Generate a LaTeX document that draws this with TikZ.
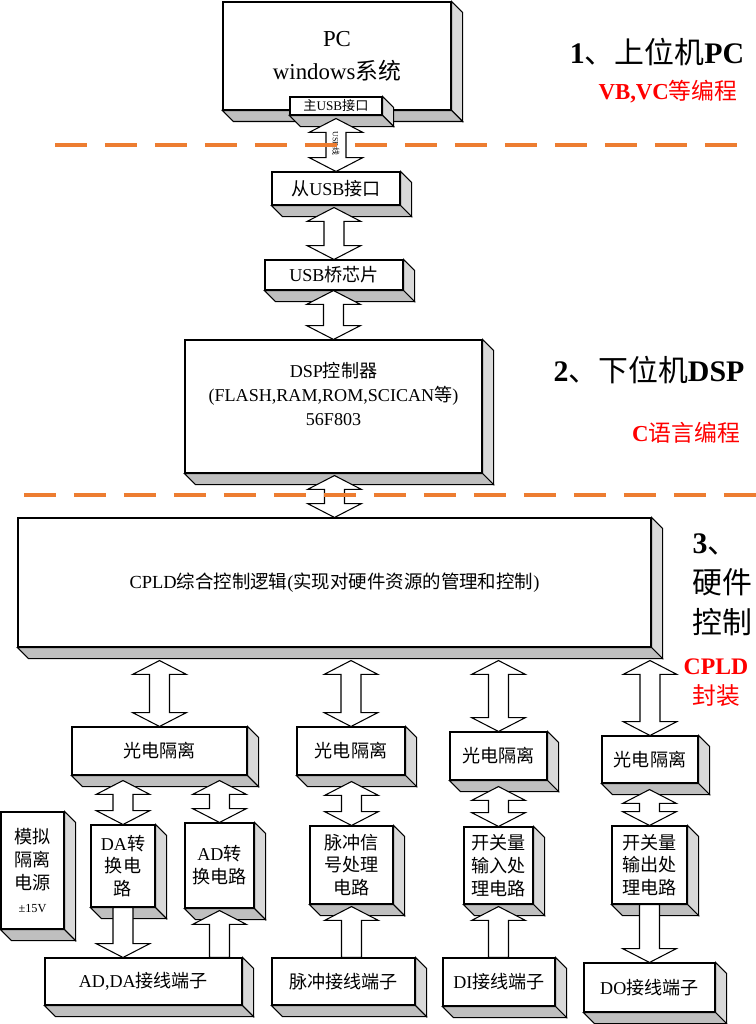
\documentclass[tikz,border=0pt]{standalone}
\usepackage{fontspec}
\usepackage{tikz}
\usepackage{xcolor}
\setmainfont{Liberation Serif}
\newfontfamily\cjk{Noto Sans CJK SC}
\usetikzlibrary{calc}
\definecolor{sepline}{RGB}{237,125,49}
\newcommand\zh[1]{{\cjk #1}}
\newcommand\ahw{15.3pt}
\newcommand\asw{5.7pt}
\newcommand\ahl{7.9pt}
\newcommand\extr[1]{%
  \filldraw[fill=gray!30] (#1.north east) -- ++(11,11) -- ([shift={(11,11)}]#1.south east) -- (#1.south east) -- cycle;
  \filldraw[fill=gray!50] (#1.south west) -- (#1.south east) -- ([shift={(11,11)}]#1.south east) -- ([shift={(11,11)}]#1.south west) -- cycle;}
\newcommand\dbar[3][0]{%
  \draw[bar] let \p1=($(#2.south)+(0,#1)$), \p2=(#3.north) in
    (\x2,\y1) -- (\x2+\ahw,\y1-\ahl) -- (\x2+\asw,\y1-\ahl) -- (\x2+\asw,\y2+\ahl) -- (\x2+\ahw,\y2+\ahl) -- (\x2,\y2)
    -- (\x2-\ahw,\y2+\ahl) -- (\x2-\asw,\y2+\ahl) -- (\x2-\asw,\y1-\ahl) -- (\x2-\ahw,\y1-\ahl) -- cycle;}
\newcommand\ardn[2]{%
  \draw[bar] let \p1=(#1.south), \p2=(#2.north) in
    (\x1-\asw,\y1) -- (\x1-\asw,\y2+\ahl) -- (\x1-\ahw,\y2+\ahl) -- (\x1,\y2) -- (\x1+\ahw,\y2+\ahl) -- (\x1+\asw,\y2+\ahl) -- (\x1+\asw,\y1) -- cycle;}
\newcommand\arup[2]{%
  \draw[bar] let \p1=($(#2.south)+(0,2)$), \p2=(#1.north) in
    (\x1,\y1) -- (\x1+\ahw,\y1-\ahl) -- (\x1+\asw,\y1-\ahl) -- (\x1+\asw,\y2) -- (\x1-\asw,\y2) -- (\x1-\asw,\y1-\ahl) -- (\x1-\ahw,\y1-\ahl) -- cycle;}
\begin{document}
\begin{tikzpicture}[x=0.02cm,y=-0.02cm,line width=0.6pt,
    blk/.style={draw,fill=white,inner sep=0pt,align=center,font=\fontsize{10.3}{13}\selectfont},
    sz/.style 2 args={minimum width=#1*0.02cm,minimum height=#2*0.02cm},
    bar/.style={draw=black,fill=white,line join=miter},
    sep/.style={sepline,line width=2.3pt,dash pattern=on 0.64cm off 0.36cm},
    lab/.style={inner sep=0pt}]
  \fill[white] (0,0) rectangle (756,1024);
  \useasboundingbox (0,0) rectangle (756,1024);
  \node[blk,sz={228}{108},font=\fontsize{13}{18.7}\selectfont] (pc) at (337,56) {PC\\windows\zh{系统}};
  \node[blk,sz={128}{33}] (usbs) at (336,188.5) {\zh{从}USB\zh{接口}};
  \node[blk,sz={138}{30}] (brg) at (334,275) {USB\zh{桥芯片}};
  \node[blk,sz={297}{133},text depth=14pt,font=\fontsize{10.3}{13.6}\selectfont] (dsp) at (333.5,406.5) {DSP\zh{控制器}\\(FLASH,RAM,ROM,SCICAN\zh{等})\\56F803};
  \node[blk,sz={633}{129},font=\fontsize{10.5}{13}\selectfont] (cpld) at (334.5,582.5) {CPLD\zh{综合控制逻辑}(\zh{实现对硬件资源的管理和控制})};
  \node[blk,sz={175}{48}] (iso1) at (159.5,751) {\zh{光电隔离}};
  \node[blk,sz={108}{48}] (iso2) at (351,751) {\zh{光电隔离}};
  \node[blk,sz={97}{48}] (iso3) at (498.5,756) {\zh{光电隔离}};
  \node[blk,sz={96}{47}] (iso4) at (650,759.5) {\zh{光电隔离}};
  \node[blk,sz={63}{117}] (pwr) at (32.5,870.5) {\zh{模拟}\\\zh{隔离}\\\zh{电源}\\{\fontsize{7}{9}\selectfont ±15V}};
  \node[blk,sz={64}{82}] (da) at (123,866) {DA\zh{转}\\\zh{换电}\\\zh{路}};
  \node[blk,sz={69}{85}] (ad) at (219.5,865.5) {AD\zh{转}\\\zh{换电路}};
  \node[blk,sz={83}{78}] (pulse) at (351.5,865) {\zh{脉冲信}\\\zh{号处理}\\\zh{电路}};
  \node[blk,sz={69}{77}] (din) at (498.5,865.5) {\zh{开关量}\\\zh{输入处}\\\zh{理电路}};
  \node[blk,sz={75}{78}] (dout) at (649.5,865) {\zh{开关量}\\\zh{输出处}\\\zh{理电路}};
  \node[blk,sz={197}{47}] (tad) at (143.5,981.5) {AD,DA\zh{接线端子}};
  \node[blk,sz={143}{47}] (tpu) at (343.5,981.5) {\zh{脉冲接线端子}};
  \node[blk,sz={112}{48}] (tdin) at (499,982) {DI\zh{接线端子}};
  \node[blk,sz={131}{49}] (tdout) at (649.5,987.5) {DO\zh{接线端子}};
  \foreach \bx in {pc,usbs,brg,dsp,cpld,iso1,iso2,iso3,iso4,pwr,da,ad,pulse,din,dout,tad,tpu,tdin,tdout}
    {\extr{\bx}}
  \node[blk,sz={92}{18},font=\fontsize{7.5}{9}\selectfont] (usbm) at (336,106) {\zh{主}USB\zh{接口}};
  \extr{usbm}
  \dbar[3]{usbm}{usbs}
  \dbar[2]{usbs}{brg}
  \dbar{brg}{dsp}
  \dbar[2]{dsp}{cpld}
  \foreach \iso in {iso1,iso2,iso3,iso4}
    {\dbar[13]{cpld}{\iso}}
  \dbar[5]{iso1}{da}
  \dbar[5]{iso1}{ad}
  \dbar[6]{iso2}{pulse}
  \dbar[6]{iso3}{din}
  \dbar[6]{iso4}{dout}
  \ardn{da}{tad}
  \arup{tad}{ad}
  \arup{tpu}{pulse}
  \arup{tdin}{din}
  \ardn{dout}{tdout}
  \node[lab,rotate=-90,font=\fontsize{4.5}{5}\selectfont] (usbl) at ($(usbm.south)!0.5!(usbs.north)$) {USB\zh{线}};
  \draw[sep] (55,145) -- (745,145);
  \draw[sep] (24,495) -- (756,495);
  \node[lab,font=\fontsize{17}{20}\selectfont] (up) at (657,52) {\textbf{1}\zh{、上位机}\textbf{PC}};
  \node[lab,red,font=\fontsize{13}{15}\selectfont] (upl) at (668,92) {\textbf{VB,VC}\zh{等编程}};
  \node[lab,font=\fontsize{17}{20}\selectfont] (dn) at (649,370) {\textbf{2}\zh{、下位机}\textbf{DSP}};
  \node[lab,red,font=\fontsize{13}{15}\selectfont] (dnl) at (686,433) {\textbf{C}\zh{语言编程}};
  \node[lab,anchor=west,align=left,font=\fontsize{17}{22.7}\selectfont] (hw) at (692,585) {\textbf{3}\zh{、}\\\zh{硬件}\\\zh{控制}};
  \node[lab,red,align=center,font=\fontsize{13.5}{17}\selectfont] (hwl) at (716,683) {\textbf{CPLD}\\\zh{封装}};
\end{tikzpicture}
\end{document}
